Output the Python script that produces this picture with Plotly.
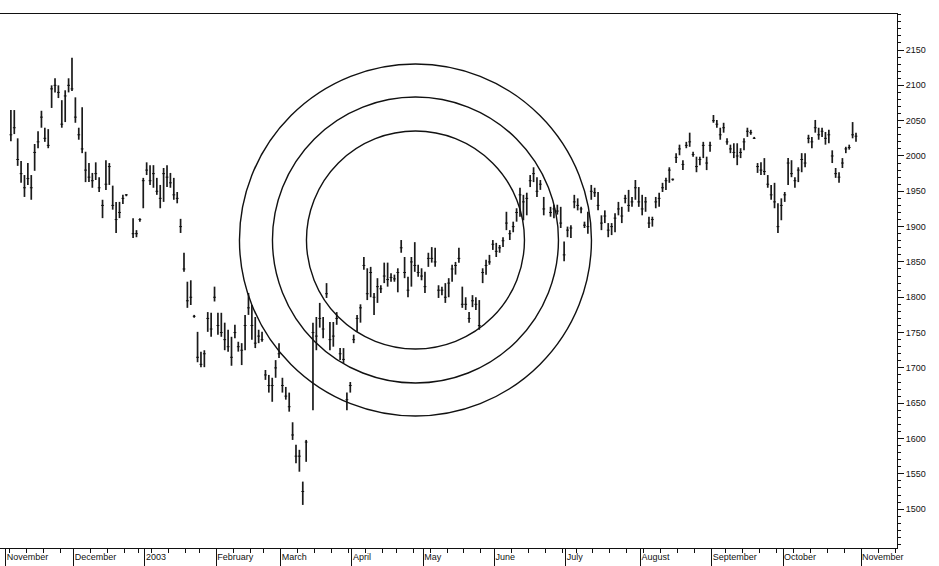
import numpy as np
import pandas as pd
import plotly.graph_objects as go

# ---------------- data (daily bars, Nov 2002 - Oct 2003) ----------------
holidays = ["2002-11-28", "2002-12-25", "2003-01-01", "2003-01-20", "2003-02-17",
            "2003-04-18", "2003-05-26", "2003-07-04", "2003-09-01"]

month_labels = ["November", "December", "2003", "February", "March", "April", "May",
                "June", "July", "August", "September", "October", "November"]

y_tick_values = [1500, 1550, 1600, 1650, 1700, 1750, 1800, 1850, 1900, 1950,
                 2000, 2050, 2100, 2150]

highs = [
    # Nov
    None, 2065, 2065, 2025, 1993, 1973, 1990, 1973, 2017, 2035, 2064, 2040, 2038, 2100, 2110,
    2100, 2079, 2093, 2110, 2139,
    # Dec
    2083, 2040, 2069, 2006, 1990, 1976, 1991, 1970, 1938, 1994, 1990, 1958, 1935, 1935, 1945,
    1946, None, 1912, 1895, 1912, 1969,
    # Jan
    1991, 1987, 1987, 1969, 1959, 1983, 1987, 1976, 1969, 1949, 1911, 1863, 1822, 1824, 1775,
    1751, 1723, 1725, 1779, 1778, 1815,
    # Feb
    1778, 1778, 1764, 1754, 1744, 1761, 1737, 1735, 1775, 1806, 1789, 1772, 1754, 1751, 1697,
    1690, 1686, 1711, 1735,
    # Mar
    1686, 1673, 1665, 1623, 1591, 1584, 1539, 1598, None, 1764, 1772, 1792, 1772, 1820, 1765,
    1765, 1779, 1728, 1728, 1665, 1680,
    # Apr
    1747, 1775, 1790, 1857, 1841, 1843, 1806, 1827, 1817, 1849, 1849, 1834, 1832, 1841, 1881,
    1857, 1829, 1857, 1878, 1846, 1841,
    # May
    1836, 1863, 1871, 1870, 1817, 1815, 1820, 1827, 1846, 1850, 1870, 1815, 1800, 1779, 1803,
    1800, 1796, 1841, 1853, 1860, 1881,
    # Jun
    1877, 1874, 1885, 1921, 1895, 1907, 1926, 1955, 1945, 1948, 1973, 1984, 1970, 1966, 1942,
    None, 1928, 1931, 1931, 1928, 1879,
    # Jul
    1900, 1902, 1945, 1940, 1928, 1907, 1921, 1959, 1955, 1949, 1916, 1923, 1905, 1905, 1919,
    1935, 1928, 1945, 1952, 1942, 1966, 1956,
    # Aug
    1945, 1942, 1914, 1914, 1942, 1948, 1962, 1969, 1984, 1968, 2004, 2016, 1994, 2020, 2033,
    2006, 1999, 1999, 2020, 1999, 2020,
    # Sep
    2058, 2051, 2040, 2047, 2025, 2016, 2018, 2018, 2011, 2025, 2040, 2037, 2027, 1990, 1991,
    1997, 1973, 1959, 1962, 1933, 1940,
    # Oct
    1949, 1997, 1994, 1970, 1984, 2004, 2004, 2030, 2027, 2051, 2040, 2040, 2034, 2037, 2008,
    1983, 1977, 1997, 2013, 2016, 2048, 2033, None,
]

lows = [
    # Nov
    None, 2021, 2031, 1986, 1962, 1942, 1959, 1938, 1979, 2011, 2040, 2020, 2011, 2068, 2090,
    2082, 2040, 2048, 2090, 2092,
    # Dec
    2047, 2023, 2004, 1963, 1963, 1955, 1966, 1949, 1912, 1952, 1959, 1924, 1891, 1912, 1932,
    1943, None, 1884, 1885, 1907, 1926,
    # Jan
    1973, 1959, 1955, 1945, 1926, 1935, 1956, 1955, 1938, 1933, 1891, 1836, 1785, 1789, 1771,
    1708, 1701, 1701, 1751, 1744, 1794,
    # Feb
    1747, 1744, 1725, 1723, 1703, 1742, 1723, 1704, 1725, 1775, 1740, 1728, 1735, 1737, 1683,
    1665, 1652, 1686, 1714,
    # Mar
    1665, 1655, 1638, 1598, 1565, 1553, 1506, 1567, None, 1640, 1725, 1757, 1742, 1799, 1725,
    1730, 1761, 1711, 1707, 1640, 1665,
    # Apr
    1735, 1751, 1764, 1839, 1796, 1800, 1775, 1792, 1806, 1820, 1815, 1822, 1822, 1807, 1863,
    1827, 1800, 1815, 1836, 1829, 1824,
    # May
    1806, 1843, 1849, 1843, 1799, 1803, 1792, 1800, 1822, 1832, 1849, 1785, 1782, 1764, 1786,
    1782, 1754, 1820, 1832, 1846, 1867,
    # Jun
    1857, 1863, 1871, 1895, 1881, 1892, 1907, 1914, 1909, 1916, 1956, 1963, 1942, 1952, 1916,
    None, 1914, 1912, 1917, 1898, 1851,
    # Jul
    1885, 1884, 1926, 1923, 1919, 1898, 1890, 1938, 1942, 1923, 1895, 1905, 1885, 1888, 1892,
    1916, 1905, 1933, 1921, 1928, 1938, 1928,
    # Aug
    1916, 1921, 1898, 1900, 1926, 1928, 1949, 1952, 1962, 1965, 1990, 2001, 1980, 2011, 2013,
    1999, 1977, 1987, 1997, 1980, 2006,
    # Sep
    2047, 2040, 2023, 2033, 2016, 2004, 1997, 1987, 1997, 2008, 2027, 2030, 2024, 1976, 1973,
    1973, 1955, 1938, 1926, 1891, 1909,
    # Oct
    1935, 1959, 1970, 1955, 1963, 1977, 1984, 2018, 2011, 2033, 2023, 2027, 2016, 2018, 1990,
    1969, 1962, 1983, 2004, 2009, 2025, 2020, None,
]

closes = [
    # Nov
    None, 2030, 2040, 1995, 1975, 1955, 1968, 1955, 2005, 2020, 2055, 2025, 2015, 2095, 2100,
    2090, 2045, 2085, 2100, 2095,
    # Dec
    2055, 2030, 2010, 1980, 1970, 1965, 1975, 1955, 1930, 1960, 1985, 1930, 1910, 1920, 1940,
    1945, None, 1890, 1890, 1910, 1965,
    # Jan
    1980, 1965, 1975, 1950, 1940, 1975, 1970, 1962, 1945, 1940, 1900, 1840, 1795, 1800, 1773,
    1715, 1705, 1720, 1770, 1755, 1800,
    # Feb
    1760, 1750, 1740, 1730, 1715, 1750, 1730, 1725, 1760, 1785, 1760, 1735, 1745, 1740, 1690,
    1675, 1675, 1700, 1720,
    # Mar
    1675, 1660, 1645, 1605, 1575, 1575, 1525, 1595, None, 1750, 1745, 1770, 1755, 1805, 1740,
    1745, 1770, 1720, 1712, 1655, 1675,
    # Apr
    1740, 1770, 1785, 1845, 1805, 1835, 1800, 1815, 1812, 1830, 1825, 1828, 1826, 1835, 1870,
    1835, 1810, 1850, 1845, 1835, 1830,
    # May
    1815, 1855, 1855, 1850, 1810, 1810, 1800, 1820, 1840, 1845, 1855, 1790, 1790, 1770, 1795,
    1790, 1760, 1835, 1845, 1850, 1875,
    # Jun
    1865, 1870, 1880, 1905, 1890, 1900, 1920, 1945, 1935, 1940, 1965, 1975, 1950, 1960, 1925,
    None, 1920, 1925, 1922, 1905, 1860,
    # Jul
    1895, 1898, 1935, 1930, 1925, 1902, 1900, 1950, 1948, 1930, 1905, 1915, 1895, 1900, 1912,
    1925, 1915, 1940, 1930, 1935, 1955, 1935,
    # Aug
    1925, 1935, 1905, 1910, 1935, 1940, 1955, 1965, 1980, 1967, 1998, 2010, 1988, 2015, 2020,
    2002, 1985, 1995, 2015, 1990, 2015,
    # Sep
    2050, 2045, 2030, 2040, 2020, 2010, 2005, 2000, 2005, 2020, 2035, 2033, 2025, 1985, 1980,
    1978, 1960, 1945, 1935, 1900, 1930,
    # Oct
    1945, 1990, 1975, 1965, 1980, 1995, 1990, 2025, 2020, 2040, 2030, 2035, 2025, 2030, 2000,
    1975, 1970, 1990, 2010, 2012, 2030, 2028, None,
]

# ---------------- trading-day calendar ----------------
all_days = pd.bdate_range("2002-11-01", "2003-11-28")
trading_days = [d for d in all_days if d.strftime("%Y-%m-%d") not in holidays]
n = len(highs)
pos = np.arange(n)
hover_dates = [d.strftime("%d %b %Y") for d in trading_days[:n]]

month_starts = [i for i in range(len(trading_days))
                if i == 0 or trading_days[i].month != trading_days[i - 1].month][:len(month_labels)]
week_starts = [i for i in range(len(trading_days))
               if i > 0 and trading_days[i].isocalendar()[1] != trading_days[i - 1].isocalendar()[1]
               and i not in month_starts and i < 263]

hi = np.array([np.nan if v is None else v for v in highs], dtype=float)
lo = np.array([np.nan if v is None else v for v in lows], dtype=float)
cl = np.array([np.nan if v is None else v for v in closes], dtype=float)

fig = go.Figure()
fig.add_trace(go.Scatter(
    x=pos, y=cl, mode="markers",
    text=hover_dates,
    marker=dict(symbol="line-ew", size=2, color="#111", line=dict(width=1, color="#111")),
    error_y=dict(type="data", symmetric=False, array=hi - cl, arrayminus=cl - lo,
                 color="#1a1a1a", thickness=1.7, width=0),
    hovertemplate="%{text}<extra></extra>",
))

# concentric circles (pixel-sized, anchored on the chart's centre point)
circle_center_x = 120.2
circle_center_y = 1881
circle_radii_px = [109, 143, 176]
for r in circle_radii_px:
    fig.add_shape(type="circle", xref="x", yref="y",
                  xsizemode="pixel", ysizemode="pixel",
                  xanchor=circle_center_x, yanchor=circle_center_y,
                  x0=-r, x1=r, y0=-r, y1=r,
                  line=dict(color="#111", width=1.4))

fig.update_layout(
    width=939, height=566,
    margin=dict(l=0, r=42, t=14, b=18, autoexpand=False),
    paper_bgcolor="white", plot_bgcolor="white",
    showlegend=False,
    font=dict(family="Liberation Sans, Arial, sans-serif", size=9, color="#111"),
)
fig.update_xaxes(
    range=[-2.21, 262.08], automargin=False,
    showgrid=False, zeroline=False,
    showline=True, linecolor="#111", linewidth=1, mirror=True,
    tickmode="array",
    tickvals=[i - 0.5 for i in month_starts],
    ticktext=month_labels,
    ticks="outside", ticklen=18, tickwidth=1, tickcolor="#111",
    ticklabelposition="outside right",
    ticklabelstandoff=0,
    tickfont=dict(size=9, color="#111"),
    minor=dict(tickmode="array", tickvals=[i - 0.5 for i in week_starts],
               ticks="outside", ticklen=4, tickwidth=1, tickcolor="#111"),
)
fig.update_yaxes(
    range=[1445, 2201], side="right", automargin=False,
    showgrid=False, zeroline=False,
    showline=True, linecolor="#111", linewidth=1, mirror=False,
    tickmode="array", tickvals=y_tick_values,
    ticks="outside", ticklen=6, tickwidth=1, tickcolor="#111",
    tickfont=dict(size=9, color="#111"),
    minor=dict(dtick=10, tick0=1500, ticks="outside", ticklen=3, tickwidth=1, tickcolor="#111"),
)

fig.write_html("out.html", config={"displayModeBar": False},
               post_script="document.body.style.margin='0';")
